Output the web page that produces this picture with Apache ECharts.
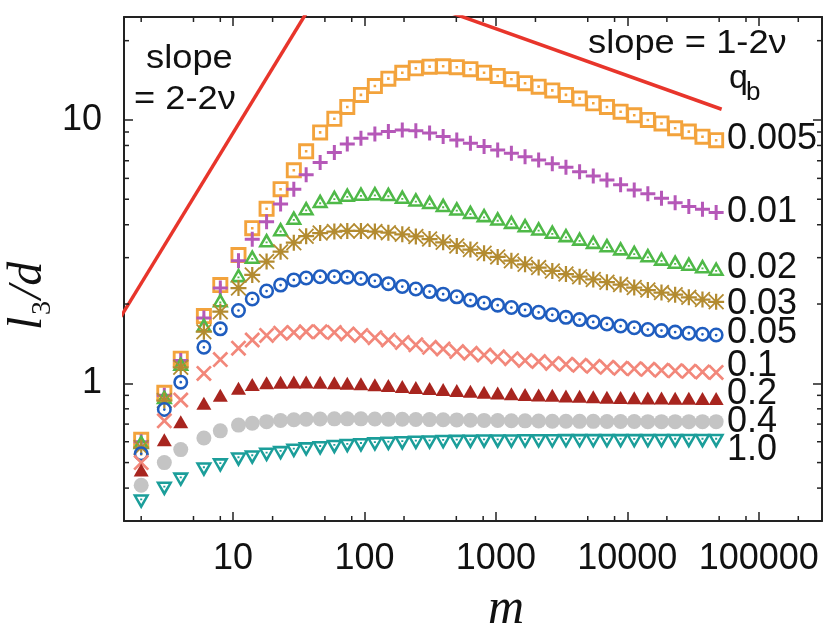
<!DOCTYPE html>
<html><head><meta charset="utf-8">
<script src="https://cdn.jsdelivr.net/npm/echarts@6/dist/echarts.min.js"></script>
<style>html,body{margin:0;padding:0;background:#fff}#c{width:830px;height:630px}</style>
</head><body><div id="c"></div>
<script>
// ---- data ----
const m = [2,3,4,6,8,11,14,18,23,29,36,46,59,74,94,120,152,194,246,313,397,504,640,813,1032,1312,1667,2115,2687,3413,4335,5508,6998,8890,11290,14330,18200,23120,29380,37320,47420];
const q0005 = [0.61,0.92,1.24,1.80,2.36,3.07,3.88,4.60,5.46,6.44,7.60,8.97,10.1,11.2,12.45,13.45,14.35,15.1,15.7,15.94,15.98,15.86,15.58,15.12,14.69,14.28,13.79,13.38,12.95,12.45,12.05,11.57,11.2,10.75,10.42,10.0,9.70,9.30,9.03,8.64,8.38];
const q001 = [0.60,0.90,1.22,1.77,2.30,2.92,3.52,4.11,4.80,5.46,6.20,6.90,7.52,8.10,8.52,8.84,9.03,9.16,9.10,8.92,8.66,8.40,8.16,7.92,7.69,7.47,7.25,7.05,6.82,6.62,6.36,6.13,5.92,5.67,5.42,5.24,5.04,4.85,4.69,4.58,4.45];
const q002 = [0.60,0.89,1.19,1.67,2.07,2.58,3.03,3.50,3.85,4.26,4.63,4.93,5.11,5.21,5.26,5.28,5.24,5.12,5.00,4.89,4.76,4.62,4.48,4.36,4.23,4.11,3.99,3.88,3.77,3.66,3.55,3.45,3.35,3.26,3.16,3.07,2.98,2.90,2.85,2.79,2.73];
const q003 = [0.57,0.86,1.15,1.57,1.87,2.30,2.58,2.90,3.16,3.42,3.62,3.72,3.77,3.79,3.79,3.77,3.73,3.68,3.61,3.53,3.43,3.32,3.22,3.12,3.02,2.92,2.83,2.75,2.67,2.60,2.54,2.48,2.42,2.37,2.31,2.26,2.21,2.17,2.12,2.08,2.04];
const q005 = [0.54,0.795,1.01,1.37,1.61,1.89,2.09,2.24,2.36,2.47,2.51,2.54,2.54,2.53,2.50,2.45,2.39,2.33,2.28,2.23,2.18,2.13,2.07,2.02,1.98,1.94,1.90,1.86,1.82,1.78,1.745,1.71,1.68,1.65,1.625,1.60,1.585,1.565,1.55,1.535,1.525];
const q01 = [0.50,0.72,0.864,1.09,1.23,1.36,1.46,1.52,1.55,1.56,1.57,1.57,1.56,1.54,1.52,1.49,1.46,1.43,1.40,1.37,1.35,1.32,1.30,1.28,1.26,1.24,1.22,1.21,1.19,1.18,1.17,1.16,1.15,1.14,1.135,1.13,1.12,1.115,1.11,1.105,1.10];
const q02 = [0.469,0.61,0.715,0.84,0.90,0.957,0.99,1.005,1.01,1.012,1.012,1.01,1.005,1.0,0.995,0.988,0.98,0.972,0.964,0.955,0.947,0.94,0.932,0.925,0.918,0.912,0.906,0.903,0.90,0.895,0.892,0.889,0.886,0.884,0.882,0.88,0.879,0.878,0.877,0.876,0.875];
const q04 = [0.41,0.50,0.56,0.62,0.66,0.694,0.705,0.715,0.722,0.727,0.730,0.732,0.733,0.733,0.733,0.732,0.731,0.730,0.729,0.728,0.727,0.726,0.724,0.723,0.722,0.721,0.720,0.719,0.718,0.718,0.717,0.717,0.716,0.716,0.716,0.715,0.715,0.715,0.715,0.715,0.715];
const q10 = [0.355,0.397,0.43,0.47,0.487,0.513,0.522,0.534,0.542,0.553,0.560,0.566,0.572,0.577,0.581,0.585,0.588,0.591,0.593,0.595,0.597,0.598,0.599,0.600,0.600,0.600,0.601,0.601,0.601,0.602,0.602,0.602,0.602,0.602,0.602,0.602,0.603,0.603,0.603,0.603,0.603];
const qbLabels = ['0.005','0.01','0.02','0.03','0.05','0.1','0.2','0.4','1.0'];
const slopeLine1 = [[1.4,1.79],[40,27.7]];      // slope 2-2nu
const slopeLine2 = [[450,25.6],[52200,10.98]];  // slope 1-2nu
const xTickLabels = ['10','100','1000','10000','100000'];
const yTickLabels = ['1','10'];
const xMinorTicks = [2,5,8,20,50,80,200,500,800,2000,5000,8000,20000,50000,80000,200000];
const yMinorTicks = [0.4,0.5,0.6,0.7,0.8,0.9,2,3,4,5,6,7,8,9,20];

// ---- symbols ----
const SQ_DOT = 'path://M0,0L100,0L100,100L0,100ZM18,18L18,82L82,82L82,18ZM42,42L58,42L58,58L42,58Z';
const PLUS = 'path://M40,0L60,0L60,40L100,40L100,60L60,60L60,100L40,100L40,60L0,60L0,40L40,40Z';
const TRI_UP_DOT = 'path://M50,0L100,100L0,100ZM50,35.8L24.9,83L75.1,83ZM44,60L56,60L56,72L44,72Z';
const TRI_DN_DOT = 'path://M0,0L100,0L50,100ZM50,64.2L75.1,17L24.9,17ZM44,28L56,28L56,40L44,40Z';
const CIRC_DOT = 'path://M50,0A50,50,0,1,1,49.99,0ZM50,17A33,33,0,1,0,50.01,17ZM50,41A9,9,0,1,1,49.99,41Z';
const ASTER = 'path://M43,0L57,0L57,100L43,100ZM0,43L100,43L100,57L0,57ZM8,0L100,92L92,100L0,8ZM92,0L100,8L8,100L0,92Z';
const XCROSS = 'path://M12,0L100,88L88,100L0,12ZM88,0L100,12L12,100L0,88Z';

const defs = [
  {d:q0005, c:'#f3a33c', s:SQ_DOT, z:[16,16]},
  {d:q001,  c:'#b558b8', s:PLUS, z:[15,15]},
  {d:q002,  c:'#4fb948', s:TRI_UP_DOT, z:[17,15]},
  {d:q003,  c:'#b38b30', s:ASTER, z:[16,16]},
  {d:q005,  c:'#1f5dbf', s:CIRC_DOT, z:[15,15]},
  {d:q01,   c:'#f2877a', s:XCROSS, z:[16,16]},
  {d:q02,   c:'#a8251f', s:'triangle', z:[15,13]},
  {d:q04,   c:'#c4c4c4', s:'circle', z:[15,15]},
  {d:q10,   c:'#1b9e9a', s:TRI_DN_DOT, z:[17,15]}
];
const labelY = [139,211.7,268,304,333.3,365.8,394,421.7,450];

const SANS = '"Liberation Sans", Arial, Helvetica, sans-serif';
const SERIF = '"Liberation Serif", "Times New Roman", serif';
const AX = '#222';

function isPow10(v){ const l=Math.log10(v); return Math.abs(l-Math.round(l))<1e-6; }
function xFmt(v){ if(!isPow10(v)) return ''; const e=Math.round(Math.log10(v)); return xTickLabels[e-1]||''; }
function yFmt(v){ if(!isPow10(v)) return ''; const e=Math.round(Math.log10(v)); return yTickLabels[e]||''; }

const baseAxis = {
  type:'log', logBase:10,
  axisLine:{show:true, onZero:false, lineStyle:{color:AX, width:2}},
  axisTick:{show:true, inside:true, length:9, lineStyle:{color:AX, width:1.5}},
  splitLine:{show:false}, minorTick:{show:false}, minorSplitLine:{show:false}
};

function minorSeries(vals, dir){
  return {
    type:'custom', xAxisIndex:0, yAxisIndex:0, silent:true, clip:false, z:5,
    data: vals.map(v => dir==='x' ? [v,1] : [10,v]),
    renderItem(params, api){
      const cs = params.coordSys;
      const L = 5;
      const st = {stroke:AX, lineWidth:1.5};
      if(dir==='x'){
        const px = api.coord([api.value(0),1])[0];
        const yb = cs.y+cs.height, yt = cs.y;
        return {type:'group', children:[
          {type:'line', shape:{x1:px,y1:yb,x2:px,y2:yb-L}, style:st},
          {type:'line', shape:{x1:px,y1:yt,x2:px,y2:yt+L}, style:st}]};
      } else {
        const py = api.coord([10,api.value(1)])[1];
        const xl = cs.x, xr = cs.x+cs.width;
        return {type:'group', children:[
          {type:'line', shape:{x1:xl,y1:py,x2:xl+L,y2:py}, style:st},
          {type:'line', shape:{x1:xr,y1:py,x2:xr-L,y2:py}, style:st}]};
      }
    }
  };
}

const series = defs.map((o,k)=>({
  type:'scatter', name:qbLabels[k], silent:true,
  data: m.map((x,i)=>[x,o.d[i]]),
  symbol:o.s, symbolSize:o.z,
  itemStyle:{color:o.c, opacity:1},
  z:2+k*0.01
}));
[slopeLine1, slopeLine2].forEach(l=>series.push({
  type:'line', data:l, symbol:'none', clip:true, silent:true,
  lineStyle:{color:'#e8352b', width:3.5}, z:3
}));
series.push(minorSeries(xMinorTicks,'x'));
series.push(minorSeries(yMinorTicks,'y'));

const graphics = [];
function txt(t, x, y, size, opts){
  opts = opts||{};
  graphics.push({type:'text', x:x, y:y, scaleX:opts.sx||1, z:100,
    style:{text:t, fill:'#111', fontSize:size, fontFamily:opts.ff||SANS, fontStyle:opts.fs||'normal',
      align:opts.align||'left', verticalAlign:'middle'}});
}
qbLabels.forEach((t,i)=>txt(t, 727, labelY[i], 36));
txt('slope', 146, 58.6, 33, {sx:1.1});
txt('= 2-2ν', 134, 100.3, 33, {sx:1.1});
txt('slope = 1-2ν', 588, 43.6, 33, {sx:1.1});
txt('q', 729, 78.2, 34);
txt('b', 746, 93.3, 26);
txt('m', 506, 609.8, 50, {ff:SERIF, fs:'italic', align:'center'});
graphics.push({type:'group', x:44, y:330, rotation:Math.PI/2, z:100, children:[
  {type:'text', x:0, y:-16, style:{text:'l', fill:'#111', fontSize:48, fontFamily:SERIF, fontStyle:'italic', verticalAlign:'middle'}},
  {type:'text', x:15, y:-1, style:{text:'3', fill:'#111', fontSize:28, fontFamily:SERIF, verticalAlign:'middle'}},
  {type:'text', x:31, y:-16, style:{text:'/d', fill:'#111', fontSize:48, fontFamily:SERIF, fontStyle:'italic', verticalAlign:'middle'}}
]});

const chart = echarts.init(document.getElementById('c'), null, {renderer:'canvas'});
chart.setOption({
  animation:false,
  backgroundColor:'#ffffff',
  grid:{left:124, right:8, top:17, bottom:109, containLabel:false, outerBoundsMode:'none'},
  xAxis:[
    Object.assign({}, baseAxis, {position:'bottom', min:1.48, max:303000,
      axisLabel:{show:true, formatter:xFmt, fontSize:36, color:'#111', fontFamily:SANS, margin:20, showMinLabel:false, showMaxLabel:false}}),
    Object.assign({}, baseAxis, {position:'top', min:1.48, max:303000, axisLabel:{show:false}})
  ],
  yAxis:[
    Object.assign({}, baseAxis, {position:'left', min:0.3, max:24.6,
      axisLabel:{show:true, formatter:yFmt, fontSize:36, color:'#111', fontFamily:SANS, margin:22, showMinLabel:false, showMaxLabel:false}}),
    Object.assign({}, baseAxis, {position:'right', min:0.3, max:24.6, axisLabel:{show:false}})
  ],
  series: series,
  graphic: graphics
});
</script>
</body></html>
